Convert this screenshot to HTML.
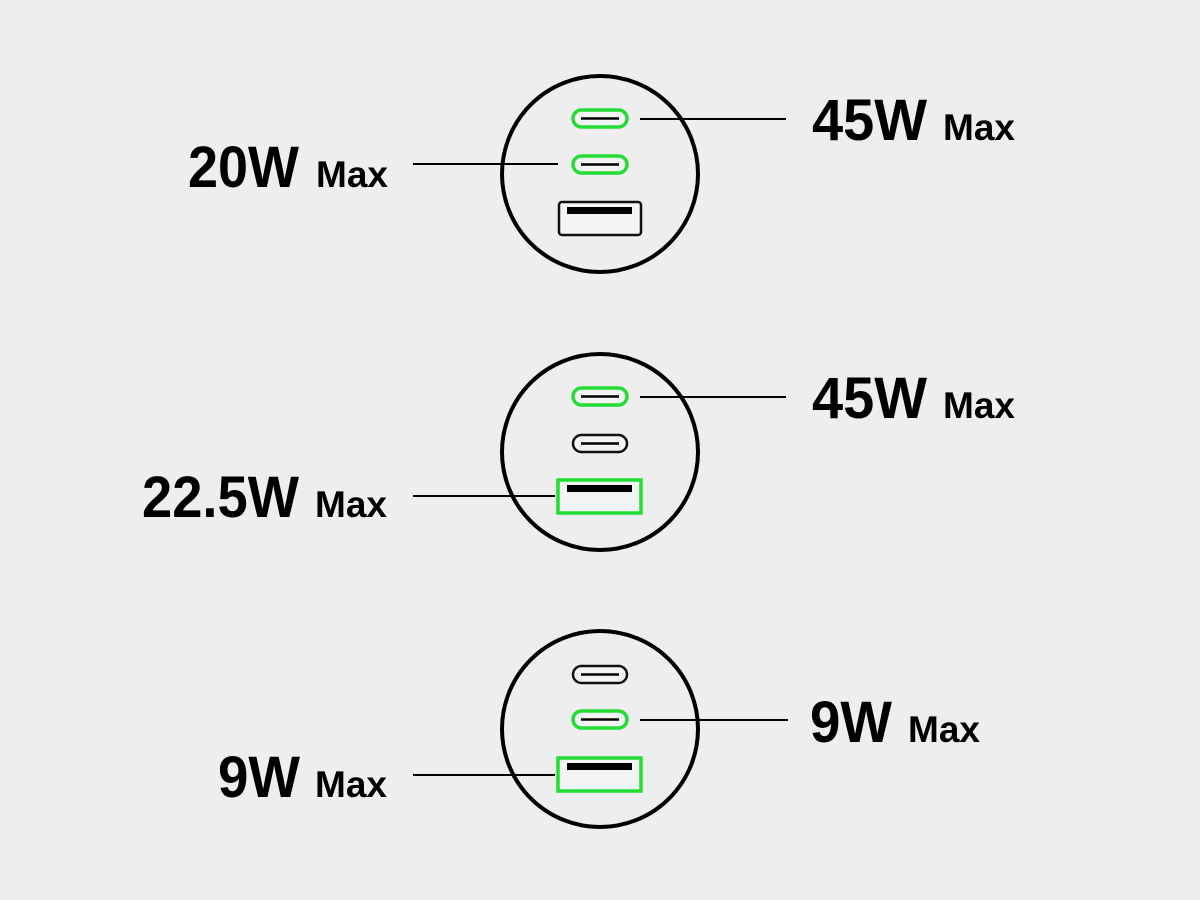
<!DOCTYPE html>
<html><head><meta charset="utf-8"><style>
html,body{margin:0;padding:0;background:#eeeeee;}
svg{display:block}
text{font-family:"Liberation Sans",sans-serif;font-weight:bold;fill:#000}
</style></head><body>
<svg width="1200" height="900" viewBox="0 0 1200 900">
<rect width="1200" height="900" fill="#eeeeee"/>
<g fill="none" stroke="#000" stroke-width="4">
<circle cx="600" cy="174" r="98"/>
<circle cx="600" cy="452" r="98"/>
<circle cx="600" cy="729" r="98"/>
</g>
<g stroke-width="3.5" fill="#f4f4f4">
<rect x="573" y="110" width="54" height="17" rx="8.5" stroke="#22dd33"/>
<rect x="573" y="156" width="54" height="17" rx="8.5" stroke="#22dd33"/>
<rect x="573" y="388" width="54" height="17" rx="8.5" stroke="#22dd33"/>
<rect x="573" y="435" width="54" height="17" rx="8.5" stroke="#111" stroke-width="2.5"/>
<rect x="573" y="666" width="54" height="17" rx="8.5" stroke="#111" stroke-width="2.5"/>
<rect x="573" y="711" width="54" height="17" rx="8.5" stroke="#22dd33"/>
</g>
<g stroke="#000" stroke-width="2.5">
<line x1="581" y1="118.5" x2="619" y2="118.5"/>
<line x1="581" y1="164.5" x2="619" y2="164.5"/>
<line x1="581" y1="396.5" x2="619" y2="396.5"/>
<line x1="581" y1="443.5" x2="619" y2="443.5"/>
<line x1="581" y1="674.5" x2="619" y2="674.5"/>
<line x1="581" y1="719.5" x2="619" y2="719.5"/>
</g>
<rect x="559" y="202" width="82" height="33" rx="3" fill="#f4f4f4" stroke="#111" stroke-width="2.5"/>
<rect x="567" y="207" width="65" height="7" fill="#000"/>
<rect x="558" y="480" width="83" height="33" fill="#f4f4f4" stroke="#22dd33" stroke-width="3.5"/>
<rect x="567" y="485" width="65" height="7" fill="#000"/>
<rect x="558" y="758" width="83" height="33" fill="#f4f4f4" stroke="#22dd33" stroke-width="3.5"/>
<rect x="567" y="763" width="65" height="7" fill="#000"/>
<g stroke="#000" stroke-width="2">
<line x1="640" y1="119" x2="786" y2="119"/>
<line x1="413" y1="164" x2="558" y2="164"/>
<line x1="640" y1="397" x2="786" y2="397"/>
<line x1="413" y1="496" x2="555" y2="496"/>
<line x1="640" y1="720" x2="788" y2="720"/>
<line x1="413" y1="775" x2="555" y2="775"/>
</g>
<text x="812" y="140" font-size="58" textLength="115" lengthAdjust="spacingAndGlyphs">45W</text>
<text x="943" y="140" font-size="37" textLength="72" lengthAdjust="spacingAndGlyphs">Max</text>
<text x="188" y="187" font-size="58" textLength="111" lengthAdjust="spacingAndGlyphs">20W</text>
<text x="316" y="187" font-size="37" textLength="72" lengthAdjust="spacingAndGlyphs">Max</text>
<text x="812" y="418" font-size="58" textLength="115" lengthAdjust="spacingAndGlyphs">45W</text>
<text x="943" y="418" font-size="37" textLength="72" lengthAdjust="spacingAndGlyphs">Max</text>
<text x="142" y="517" font-size="58" textLength="157" lengthAdjust="spacingAndGlyphs">22.5W</text>
<text x="315" y="517" font-size="37" textLength="72" lengthAdjust="spacingAndGlyphs">Max</text>
<text x="810" y="742" font-size="58" textLength="82" lengthAdjust="spacingAndGlyphs">9W</text>
<text x="908" y="742" font-size="37" textLength="72" lengthAdjust="spacingAndGlyphs">Max</text>
<text x="218" y="797" font-size="58" textLength="82" lengthAdjust="spacingAndGlyphs">9W</text>
<text x="315" y="797" font-size="37" textLength="72" lengthAdjust="spacingAndGlyphs">Max</text>
</svg>
</body></html>
